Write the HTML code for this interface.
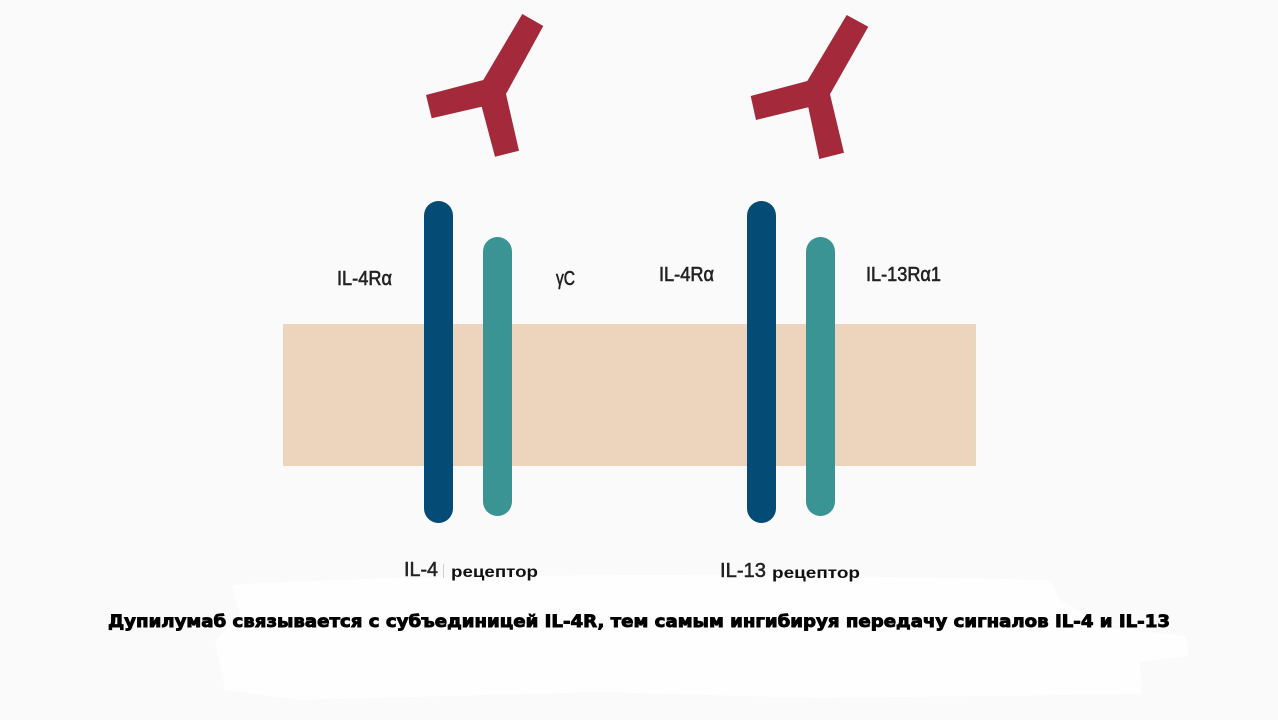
<!DOCTYPE html>
<html>
<head>
<meta charset="utf-8">
<style>
html,body{margin:0;padding:0;background:#fafafa;}
svg{display:block;}
</style>
</head>
<body>
<svg width="1278" height="720" viewBox="0 0 1278 720" xmlns="http://www.w3.org/2000/svg">
  <rect x="0" y="0" width="1278" height="720" fill="#fafafa"/>
  <!-- white smudge area at bottom -->
  <path d="M232,585 C400,574 700,572 1050,580 L1060,600 L1110,628 L1186,636 L1188,656 L1140,662 L1142,694 L820,698 L600,692 L300,700 L225,690 L215,640 L240,618 Z" fill="#fefefe"/>

  <!-- membrane -->
  <rect x="283" y="324" width="693" height="142" fill="#ecd5bc"/>

  <!-- receptor bars -->
  <rect x="424" y="201" width="29" height="322" rx="14.5" fill="#044c75"/>
  <rect x="483" y="237" width="29" height="279" rx="14.5" fill="#3a9494"/>
  <rect x="747" y="201" width="29" height="322" rx="14.5" fill="#044c75"/>
  <rect x="806" y="237" width="29" height="279" rx="14.5" fill="#3a9494"/>

  <!-- antibodies -->
  <polygon points="522.3,14 543.3,26 506,94 519,150.7 495,156.7 481.7,106.7 431.7,118.3 426,95 483.3,80" fill="#a3293b"/>
  <polygon points="846.7,15 868.3,26.7 830,94.3 844,152.7 819.3,159 808.3,107.3 756,120 750.7,96 807.3,81" fill="#a3293b"/>

  <!-- chain labels -->
  <g font-family="'Liberation Sans', sans-serif" font-size="20" fill="#222222" stroke="#222222" stroke-width="0.6">
    <text x="337" y="285" textLength="55" lengthAdjust="spacingAndGlyphs">IL-4Rα</text>
    <text x="556" y="285" textLength="19" lengthAdjust="spacingAndGlyphs">γC</text>
    <text x="659" y="281" textLength="55" lengthAdjust="spacingAndGlyphs">IL-4Rα</text>
    <text x="866" y="281" textLength="75" lengthAdjust="spacingAndGlyphs">IL-13Rα1</text>
  </g>

  <!-- receptor labels -->
  <g font-family="'Liberation Sans', sans-serif" font-size="20" fill="#222222" stroke="#222222" stroke-width="0.5">
    <text x="404" y="576" textLength="34" lengthAdjust="spacingAndGlyphs">IL-4</text>
    <text x="720" y="577" textLength="46" lengthAdjust="spacingAndGlyphs">IL-13</text>
  </g>
  <line x1="443.5" y1="564" x2="443.5" y2="578" stroke="#cfcfcf" stroke-width="1"/>
  <g font-family="'Liberation Sans', sans-serif" font-size="16" font-weight="bold" fill="#111111">
    <text x="451" y="577" textLength="87" lengthAdjust="spacingAndGlyphs">рецептор</text>
    <text x="772" y="578" textLength="88" lengthAdjust="spacingAndGlyphs">рецептор</text>
  </g>

  <!-- caption -->
  <text x="108" y="627" font-family="'DejaVu Sans', 'Liberation Sans', sans-serif" font-size="17" font-weight="bold" fill="#000000" stroke="#000000" stroke-width="0.9" textLength="1062" lengthAdjust="spacingAndGlyphs">Дупилумаб связывается с субъединицей IL-4R, тем самым ингибируя передачу сигналов IL-4 и IL-13</text>
</svg>
</body>
</html>
